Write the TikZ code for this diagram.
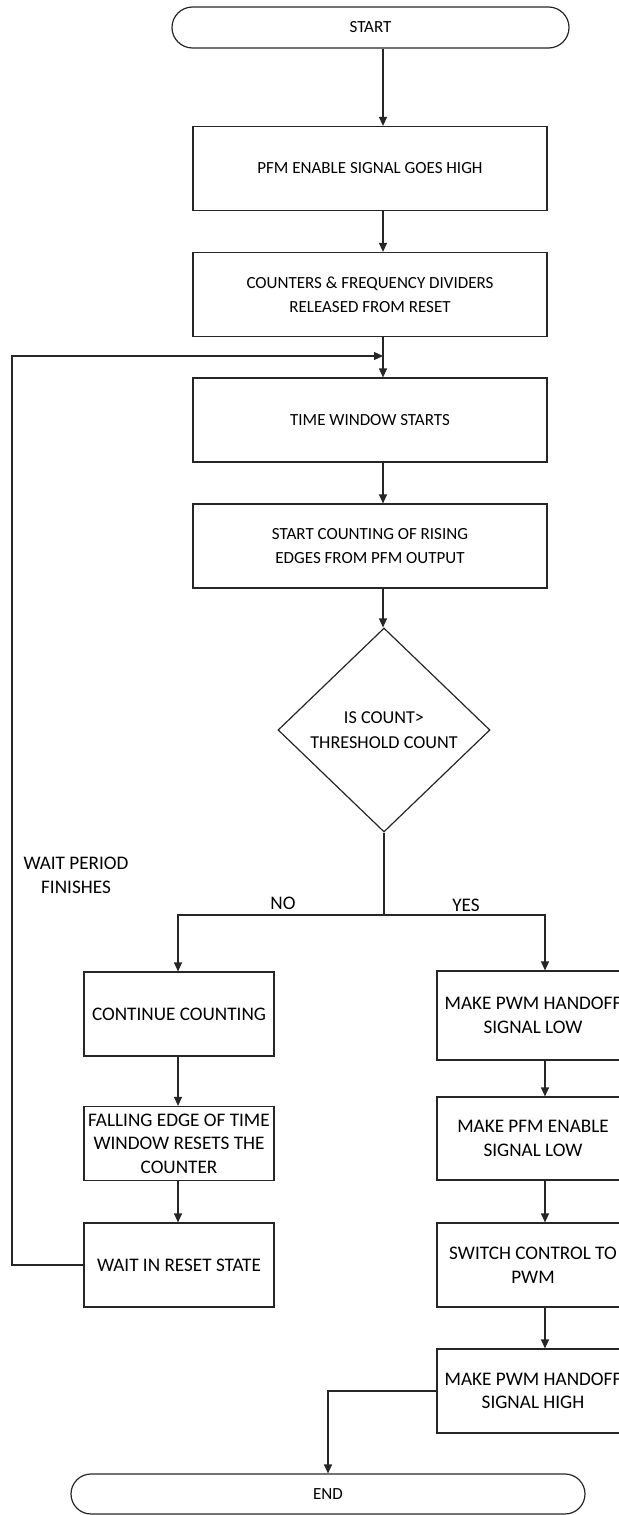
\documentclass[tikz,border=0pt]{standalone}
\usepackage{fontspec}
\setmainfont{Carlito}
\usepackage{tikz}
\usetikzlibrary{positioning,arrows.meta,shapes.geometric,shapes.misc,calc}

\begin{document}
\begin{tikzpicture}[
  x=0.5pt, y=-0.5pt,
  every node/.style={font=\fontsize{8.5}{12}\selectfont},
  proc/.style={draw, line width=0.6pt, black!85, text=black, minimum width=177pt,
               minimum height=42pt, align=center, inner sep=2pt},
  sproc/.style={proc, minimum width=95pt, font=\fontsize{9.6}{11.8}\selectfont},
  rproc/.style={proc, minimum width=96pt, font=\fontsize{9.6}{11.8}\selectfont},
  term/.style={draw, line width=0.6pt, black!85, text=black, rounded rectangle,
               minimum height=20.5pt, inner sep=2pt},
  dec/.style={draw, line width=0.6pt, black!85, text=black, diamond, align=center,
              minimum width=106pt, minimum height=102pt, inner sep=0pt,
              font=\fontsize{9.1}{12.2}\selectfont},
  arr/.style={-{Triangle[length=4.5pt,width=4pt]}, line width=0.6pt, black!85},
  lin/.style={line width=0.6pt, black!85},
  lbl/.style={inner sep=1pt, align=center, font=\fontsize{9.6}{12}\selectfont},
]
\useasboundingbox (0,0) rectangle (619,1515);

\coordinate (spine) at (383,0);

% main column
\node[term, minimum width=202.5pt] (st) at (370.5,27.5) {START};
\node[proc] (b1) at (370,168.5) {PFM ENABLE SIGNAL GOES HIGH};
\node[proc] (b2) at (370,294.5) {COUNTERS \& FREQUENCY DIVIDERS\\RELEASED FROM RESET};
\node[proc] (b3) at (370,420) {TIME WINDOW STARTS};
\node[proc] (b4) at (370,546) {START COUNTING OF RISING\\EDGES FROM PFM OUTPUT};
\node[dec] (chk) at (384,730) {IS COUNT>\\THRESHOLD COUNT};

\foreach \a/\b in {st/b1,b1/b2,b2/b3,b3/b4,b4/chk}
  \draw[arr] (\a.south -| spine) -- (\b.north -| spine);

% branches
\coordinate (split) at (384,915);
\coordinate (nojoin) at (178,915);
\coordinate (yesjoin) at (545,915);
\node[lbl] (no) at (283,903) {NO};
\node[lbl] (yes) at (466,905) {YES};

\node[sproc] (l1) at (179,1014) {CONTINUE COUNTING};
\node[sproc, minimum height=37pt] (l2) at (179,1143.5) {FALLING EDGE OF TIME\\WINDOW RESETS THE\\COUNTER};
\node[sproc] (l3) at (179,1265) {WAIT IN RESET STATE};

\node[rproc, minimum height=44.5pt] (r1) at (533,1015.5) {MAKE PWM HANDOFF\\SIGNAL LOW};
\node[rproc, minimum height=41.5pt] (r2) at (533,1138.5) {MAKE PFM ENABLE\\SIGNAL LOW};
\node[rproc] (r3) at (533,1265) {SWITCH CONTROL TO\\PWM};
\node[rproc] (r4) at (533,1391) {MAKE PWM HANDOFF\\SIGNAL HIGH};

\node[term, minimum width=261pt, minimum height=20pt] (end) at (328,1494) {END};

\draw[lin] (chk.south) -- (split);
\draw[arr] (split) -- (nojoin) -- (nojoin |- l1.north);
\draw[arr] (split) -- (yesjoin) -- (yesjoin |- r1.north);

\foreach \a/\b in {l1/l2,l2/l3}
  \draw[arr] (nojoin |- \a.south) -- (nojoin |- \b.north);
\foreach \a/\b in {r1/r2,r2/r3,r3/r4}
  \draw[arr] (yesjoin |- \a.south) -- (yesjoin |- \b.north);

% loop back after the wait
\coordinate (back) at (12,356);
\node[lbl] (wait) at (76,875) {WAIT PERIOD\\FINISHES};
\draw[arr] (l3.west) -| (back) -- (back -| spine);

\draw[arr] (r4.west) -| (end.north);
\end{tikzpicture}
\end{document}
